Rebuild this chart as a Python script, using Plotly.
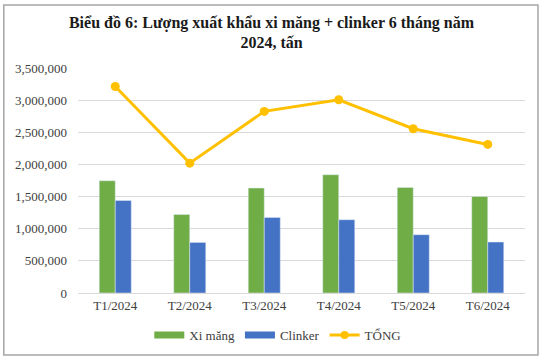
import plotly.graph_objects as go

months = ["T1/2024", "T2/2024", "T3/2024", "T4/2024", "T5/2024", "T6/2024"]
xi_mang = [1746000, 1222000, 1633000, 1840000, 1643000, 1503000]
clinker = [1440000, 787000, 1176000, 1140000, 907000, 793000]
tong = [3213000, 2020000, 2825000, 3006000, 2555000, 2311000]
y_ticks = [0, 500000, 1000000, 1500000, 2000000, 2500000, 3000000, 3500000]
y_tick_labels = ["0", "500,000", "1,000,000", "1,500,000", "2,000,000", "2,500,000", "3,000,000", "3,500,000"]

font_family = "Liberation Serif, DejaVu Serif, serif"
GREEN, BLUE, YELLOW = "#70AD47", "#4472C4", "#FFC000"

fig = go.Figure()
fig.add_trace(go.Bar(x=months, y=xi_mang, name="Xi măng", marker_color=GREEN, showlegend=False))
fig.add_trace(go.Bar(x=months, y=clinker, name="Clinker", marker_color=BLUE, showlegend=False))
fig.add_trace(go.Scatter(x=months, y=tong, name="TỔNG", mode="lines+markers",
                         line=dict(color=YELLOW, width=3),
                         marker=dict(color=YELLOW, size=9), showlegend=False))
# legend entries (Excel-like wide swatches)
fig.add_trace(go.Scatter(x=[None], y=[None], name="Xi măng", mode="lines",
                         line=dict(color=GREEN, width=7)))
fig.add_trace(go.Scatter(x=[None], y=[None], name="Clinker", mode="lines",
                         line=dict(color=BLUE, width=7)))
fig.add_trace(go.Scatter(x=[None], y=[None], name="TỔNG", mode="lines+markers",
                         line=dict(color=YELLOW, width=3), marker=dict(color=YELLOW, size=8)))

fig.update_layout(
    width=543, height=362,
    margin=dict(l=78, r=18, t=68, b=69),
    paper_bgcolor="white", plot_bgcolor="white",
    font=dict(family=font_family, size=13, color="#404040"),
    title=dict(text="<b>Biểu đồ 6: Lượng xuất khẩu xi măng + clinker 6 tháng năm<br>2024, tấn</b>",
               x=0.5, xanchor="center", y=0.924, yanchor="top",
               font=dict(family=font_family, size=16, color="#1a1a1a")),
    barmode="group", bargap=0.57, bargroupgap=0,
    showlegend=True,
    legend=dict(orientation="h", x=0.447, xanchor="center", y=-0.12, yanchor="top",
                font=dict(size=13, color="#404040"), traceorder="normal",
                itemwidth=30, tracegroupgap=0),
    xaxis=dict(showgrid=False, showline=True, linecolor="#d9d9d9", ticks="",
               tickfont=dict(size=13), automargin=False),
    yaxis=dict(range=[0, 3500000], tickvals=y_ticks, ticktext=y_tick_labels,
               showgrid=True, gridcolor="#d9d9d9", zeroline=False, showline=False,
               tickfont=dict(size=13), automargin=False, ticklabelstandoff=10),
    shapes=[dict(type="rect", xref="paper", yref="paper", x0=-0.166, x1=1.029, y0=-0.276, y1=1.28,
                 line=dict(color="#a6a6a6", width=1.5))],
)

fig.write_html("out.html", post_script="document.body.style.margin='0';",
               config={"displayModeBar": False})
